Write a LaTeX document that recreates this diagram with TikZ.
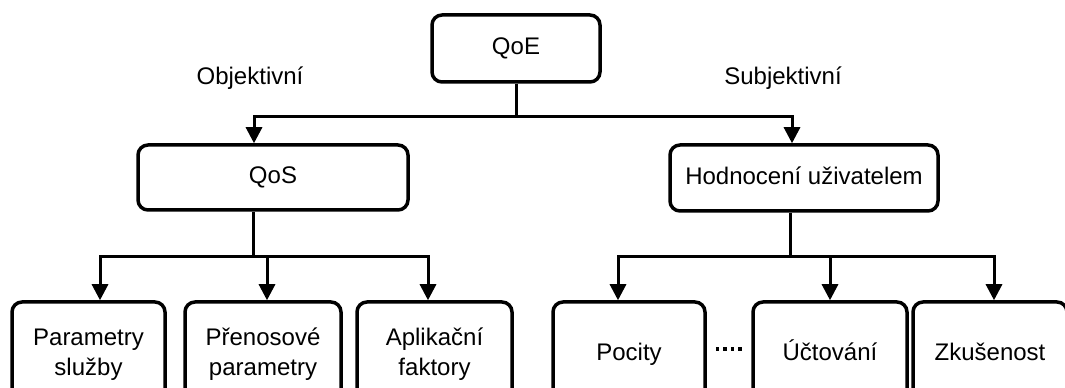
\documentclass[tikz,border=0pt]{standalone}
\usepackage{fontspec}
\setmainfont{Liberation Sans}
\usetikzlibrary{arrows.meta}
\begin{document}
\begin{tikzpicture}
[x=1pt,y=1pt,
  boxdecorate/.style={shape=rectangle,rounded corners=10pt,draw,line width=3.5pt,
    inner sep=0pt,align=center,font=\fontsize{24}{30}\selectfont},
  linedecorate/.style={line width=3pt},
  arrowdecorate/.style={linedecorate,-{Triangle[length=16pt,width=16pt]}},
  labeldecorate/.style={font=\fontsize{24}{30}\selectfont}]
\clip (0,0) rectangle (1065,388);
%% upper boxes
\foreach \nodename/\x/\y/\w/\h/\txt in {qoe/516/339.5/168/67/QoE,
    qos/273/210.5/270/65/QoS, hodnoceni/804/210/268/66/{Hodnocení uživatelem}} {
  \node (\nodename) at (\x,\y) [boxdecorate,minimum width=\w,minimum height=\h]
    {\vphantom{Ay}\txt};
}
%% lower boxes
\foreach \nodename/\x/\w/\txt in {parametry/88.5/153/{Parametry\\služby},
    prenosove/263/156/{Přenosové\\parametry}, aplikacni/434.5/155/{Aplikační\\faktory},
    pocity/629/152/Pocity, uctovani/830/154/Účtování, zkusenost/990/154/Zkušenost} {
  \node (\nodename) at (\x,35) [boxdecorate,minimum width=\w,minimum height=102]
    {\vphantom{Úy}\txt\vphantom{Úy}};
}
%% branch labels
\node (objektivni) at (250,310) [labeldecorate] {Objektivní};
\node (subjektivni) at (783,310) [labeldecorate] {Subjektivní};
%% junction points
\coordinate (topbar) at (516,271);
\coordinate (leftbar) at (253,131);
\coordinate (rightbar) at (790,131);
%% edges or lines
\draw[linedecorate] (qoe.south) -- (topbar);
\draw[arrowdecorate] (topbar) -| ([xshift=-19pt]qos.north);
\draw[arrowdecorate] (topbar) -| ([xshift=-12pt]hodnoceni.north);
\draw[linedecorate] ([xshift=-20pt]qos.south) -- (leftbar);
\draw[linedecorate] ([xshift=-14pt]hodnoceni.south) -- (rightbar);
\foreach \bar/\endnode/\dx in {leftbar/parametry/11.5, leftbar/prenosove/4,
    leftbar/aplikacni/-6.5, rightbar/pocity/-11, rightbar/uctovani/0, rightbar/zkusenost/4} {
  \draw[arrowdecorate] (\bar) -| ([xshift=\dx pt]\endnode.north);
}
\draw[line width=3.5pt,dash pattern=on 3.5pt off 4pt,shorten <=9pt,shorten >=9pt]
  ([yshift=4pt]pocity.east) -- ([yshift=4pt]uctovani.west);
\end{tikzpicture}
\end{document}
